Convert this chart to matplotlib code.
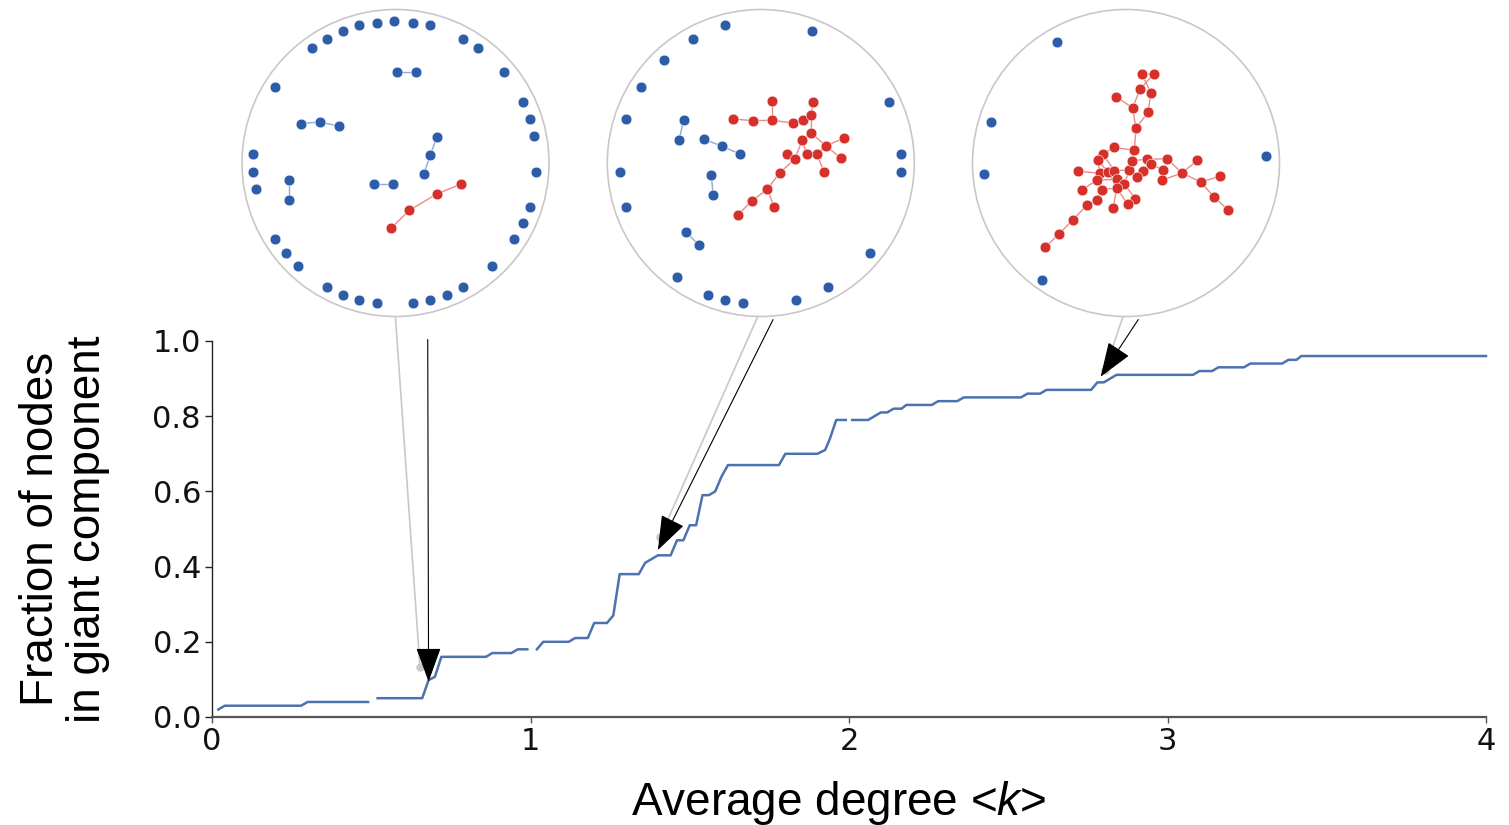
import numpy as np
import matplotlib
matplotlib.use('Agg')
import matplotlib.pyplot as plt
from matplotlib.patches import Circle, ConnectionPatch

plt.rcParams['mathtext.fontset'] = 'custom'
plt.rcParams['mathtext.rm'] = 'Liberation Sans'
plt.rcParams['mathtext.it'] = 'Liberation Sans:italic'

# curve: fraction of nodes in giant component vs average degree (nan = small gaps)
k_values = [0.02, 0.04, 0.28, 0.30, 0.49, np.nan, 0.52, 0.66, 0.68, 0.70, 0.72, 0.86, 0.88,
            0.94, 0.96, 0.99, np.nan, 1.02, 1.04, 1.12, 1.14, 1.18, 1.20, 1.24, 1.26, 1.28,
            1.34, 1.36, 1.40, 1.44, 1.46, 1.48, 1.50, 1.52, 1.54, 1.56, 1.58, 1.60, 1.62,
            1.78, 1.80, 1.90, 1.925, 1.94, 1.96, 1.99, np.nan, 2.01, 2.06, 2.10, 2.12, 2.14,
            2.165, 2.18, 2.26, 2.28, 2.34, 2.36, 2.54, 2.56, 2.60, 2.62, 2.76, 2.78, 2.80,
            2.84, 3.08, 3.10, 3.14, 3.16, 3.24, 3.26, 3.36, 3.38, 3.405, 3.42, 4.0]
fraction = [0.02, 0.03, 0.03, 0.04, 0.04, np.nan, 0.05, 0.05, 0.098, 0.107, 0.16, 0.16, 0.17,
            0.17, 0.18, 0.18, np.nan, 0.18, 0.20, 0.20, 0.21, 0.21, 0.25, 0.25, 0.27, 0.38,
            0.38, 0.41, 0.43, 0.43, 0.47, 0.47, 0.51, 0.51, 0.59, 0.59, 0.60, 0.64, 0.67,
            0.67, 0.70, 0.70, 0.71, 0.74, 0.79, 0.79, np.nan, 0.79, 0.79, 0.81, 0.81, 0.82,
            0.82, 0.83, 0.83, 0.84, 0.84, 0.85, 0.85, 0.86, 0.86, 0.87, 0.87, 0.89, 0.89,
            0.91, 0.91, 0.92, 0.92, 0.93, 0.93, 0.94, 0.94, 0.95, 0.95, 0.96, 0.96]

x_ticks = [0, 1, 2, 3, 4]
y_ticks = [0.0, 0.2, 0.4, 0.6, 0.8, 1.0]
y_ticklabels = ['0.0', '0.2', '0.4', '0.6', '0.8', '1.0']

# network snapshots (positions inside a circle of radius 100)
net1_blue = [(0.7, 59.1), (13.5, 59.1), (-61.7, 25.7), (-49.1, 26.7), (-36.7, 23.9),
             (27.0, 17.0), (22.6, 5.0), (18.5, -7.0), (-69.6, -11.3), (-69.6, -24.1),
             (-14.3, -13.7), (-1.7, -13.7),
             (-54.6, 74.8), (-44.8, 80.9), (-34.3, 86.1), (-23.5, 89.6), (-12.2, 91.5),
             (-0.7, 92.2), (11.1, 91.5), (22.6, 89.6), (43.9, 80.9), (53.7, 74.8),
             (70.4, 59.1), (83.0, 39.6), (87.4, 28.7), (90.0, 17.6), (91.5, -5.7),
             (87.4, -28.5), (83.0, -38.9), (77.4, -49.3), (62.8, -67.2), (43.9, -80.7),
             (33.5, -85.7), (22.6, -89.3), (11.1, -91.5), (-12.2, -91.5), (-23.5, -89.3),
             (-34.3, -85.7), (-44.8, -80.7), (-63.5, -67.2), (-71.3, -58.5), (-78.3, -49.3),
             (-91.1, -17.2), (-92.6, -5.7), (-92.6, 5.9), (-78.3, 49.6)]
net1_blue_edges = [(0, 1), (2, 3), (3, 4), (5, 6), (6, 7), (8, 9), (10, 11)]
net1_red = [(-3.0, -42.6), (8.9, -30.9), (27.2, -20.0), (42.8, -13.7)]
net1_red_edges = [(0, 1), (1, 2), (2, 3)]

net2_blue = [(-50.2, 27.8), (-53.3, 15.2), (-37.0, 15.4), (-25.0, 10.9), (-13.5, 5.7),
             (-32.2, -8.0), (-31.1, -20.9), (-48.9, -44.8), (-40.0, -53.7),
             (-23.3, 89.6), (33.5, 86.1), (-44.3, 80.9), (-63.0, 67.4), (-77.8, 49.6),
             (-87.8, 28.7), (-91.7, -5.7), (-87.8, -28.5), (83.3, 39.6), (91.5, 5.9),
             (91.5, -5.7), (70.9, -58.5), (44.1, -80.7), (22.8, -89.3), (-11.7, -91.5),
             (-23.3, -89.3), (-34.1, -85.7), (-54.3, -74.3)]
net2_blue_edges = [(0, 1), (2, 3), (3, 4), (5, 6), (7, 8)]
net2_red = [(-18.3, 28.7), (-5.4, 27.6), (7.4, 27.8), (7.4, 40.7), (20.7, 26.1), (27.6, 28.3),
            (34.3, 39.6), (32.6, 31.5), (32.6, 19.8), (27.0, 14.8), (53.9, 16.1), (42.4, 11.1),
            (52.4, 3.0), (36.5, 5.9), (29.8, 5.9), (17.0, 5.7), (22.0, 2.4), (41.3, -6.1),
            (12.2, -6.5), (4.3, -17.0), (-5.9, -24.8), (-14.8, -33.7), (8.7, -28.7)]
net2_red_edges = [(0, 1), (1, 2), (2, 3), (2, 4), (4, 5), (5, 7), (7, 6), (7, 8), (8, 9),
                  (8, 11), (11, 10), (11, 12), (11, 13), (13, 17), (9, 14), (9, 16), (16, 15),
                  (16, 18), (18, 19), (19, 20), (20, 21), (19, 22)]

net3_blue = [(-44.8, 79.1), (-88.0, 27.0), (-92.2, -7.2), (91.3, 4.6), (-54.6, -75.9)]
net3_blue_edges = []
net3_red = [(10.2, 57.8), (18.0, 58.0), (9.1, 48.0), (16.3, 45.9), (-6.5, 43.3), (4.3, 35.9),
            (14.3, 33.0), (6.5, 22.6), (5.4, 8.3), (-7.8, 10.2), (-15.2, 5.9), (-18.5, 2.0),
            (-31.1, -5.4), (-17.0, -6.7), (-11.5, -6.1), (-7.6, -5.0), (-19.1, -11.1),
            (-5.7, -10.7), (-1.1, -13.7), (-6.1, -16.1), (-15.7, -17.6), (-28.9, -17.8),
            (2.0, -4.6), (3.7, 1.5), (13.5, 2.4), (16.5, -0.7), (11.3, -5.2), (7.4, -9.3),
            (6.1, -23.3), (1.1, -27.0), (-8.3, -29.6), (-19.1, -24.3), (-25.4, -27.4),
            (26.7, 2.8), (24.1, -4.6), (23.7, -11.1), (36.5, -6.5), (46.5, 1.7), (48.7, -12.4),
            (61.1, -8.7), (57.2, -22.0), (66.7, -30.7), (-34.8, -37.2), (-43.7, -46.3),
            (-52.8, -55.0)]
net3_red_edges = [(0, 1), (0, 3), (1, 2), (2, 5), (3, 6), (4, 5), (5, 7), (6, 7), (7, 8),
                  (8, 9), (8, 22), (8, 23), (23, 24), (24, 25), (24, 33), (25, 34), (34, 35),
                  (35, 36), (33, 36), (36, 37), (36, 38), (38, 39), (38, 40), (40, 41),
                  (9, 10), (10, 11), (11, 13), (11, 14), (10, 15), (12, 13), (13, 14),
                  (14, 15), (15, 17), (13, 16), (16, 17), (17, 18), (17, 19), (19, 20),
                  (16, 20), (16, 21), (18, 22), (22, 27), (26, 27), (25, 26), (18, 28),
                  (28, 29), (19, 29), (19, 30), (20, 31), (31, 32), (32, 42), (42, 43),
                  (43, 44), (14, 19), (15, 22)]

# where each snapshot points on the curve
arrow_k = [0.68, 1.40, 2.79]
arrow_frac = [0.094, 0.444, 0.905]
guide_k = [0.653, 1.407, 2.804]
guide_frac = [0.133, 0.479, 0.923]

blue = '#2d5ca8'
red = '#d5302a'
blue_edge = '#8eaad8'
red_edge = '#e98b85'

W, H = 1509, 825
fig = plt.figure(figsize=(W / 100, H / 100), dpi=100)
ax = fig.add_axes([212 / W, 1 - 717 / H, 1274 / W, 376 / H])

ax.plot(k_values, fraction, color='#4c72b0', lw=1.8, clip_on=False, zorder=3)
ax.set_xlim(0, 4)
ax.set_ylim(0, 1)
ax.set_xticks(x_ticks)
ax.set_yticks(y_ticks)
ax.set_yticklabels(y_ticklabels)
ax.tick_params(axis='both', labelsize=22, labelcolor='#111', pad=3)
ax.tick_params(axis='y', length=5, width=1, color='#222')
ax.tick_params(axis='x', length=4, width=1, color='#555')
for s in ['top', 'right']:
    ax.spines[s].set_visible(False)
ax.spines['left'].set_color('#222')
ax.spines['left'].set_linewidth(1.0)
ax.spines['bottom'].set_color('#555')
ax.spines['bottom'].set_linewidth(1.6)

ax.set_ylabel('Fraction of nodes\nin giant component', fontsize=33,
              family='Liberation Sans', linespacing=1.1)
ax.yaxis.set_label_coords(-0.08, 0.5)
ax.set_xlabel('Average degree <$k$>', fontsize=33, family='Liberation Sans')
ax.xaxis.set_label_coords(0.492, -0.165)

# snapshot circles
centers = [(395.5, 163), (760.8, 163), (1126, 163)]
r = 153.5
nets = [(net1_blue, net1_blue_edges, net1_red, net1_red_edges),
        (net2_blue, net2_blue_edges, net2_red, net2_red_edges),
        (net3_blue, net3_blue_edges, net3_red, net3_red_edges)]
arrow_tails = [(21, -115), (8, -102), (8, -102)]
guide_tails = [(0, -101), (-2, -100), (-2, -100)]

for i, (cx, cy) in enumerate(centers):
    ins = fig.add_axes([(cx - r) / W, 1 - (cy + r) / H, 2 * r / W, 2 * r / H])
    ins.set_xlim(-100, 100)
    ins.set_ylim(-100, 100)
    ins.axis('off')
    ins.add_patch(Circle((0, 0), 100, fill=False, ec='#c8c8c8', lw=1.2, clip_on=False))
    b_nodes, b_edges, r_nodes, r_edges = nets[i]
    for nodes, edges, ec in [(b_nodes, b_edges, blue_edge), (r_nodes, r_edges, red_edge)]:
        for a, b in edges:
            ins.plot([nodes[a][0], nodes[b][0]], [nodes[a][1], nodes[b][1]],
                     color=ec, lw=1.0, zorder=1)
    bx, by = zip(*b_nodes)
    ins.scatter(bx, by, s=60, color=blue, edgecolors='white', linewidths=0.4, zorder=3)
    rx, ry = zip(*r_nodes)
    ins.scatter(rx, ry, s=60, color=red, edgecolors='white', linewidths=0.4, zorder=3)

    # grey guide line and black arrow from circle to the curve
    guide = ConnectionPatch(xyA=guide_tails[i], coordsA=ins.transData,
                            xyB=(guide_k[i], guide_frac[i]), coordsB=ax.transData,
                            color='#c8c8c8', lw=1.2, zorder=4)
    fig.add_artist(guide)
    ax.plot(guide_k[i], guide_frac[i], 'o', color='#c8c8c8', ms=5, zorder=2)
    arr = ConnectionPatch(xyA=arrow_tails[i], coordsA=ins.transData,
                          xyB=(arrow_k[i], arrow_frac[i]), coordsB=ax.transData,
                          arrowstyle='-|>,head_length=1.1,head_width=0.4', mutation_scale=20,
                          color='black', lw=0.8, shrinkA=0, shrinkB=0, zorder=5)
    fig.add_artist(arr)

plt.savefig('out.png', dpi=100)
